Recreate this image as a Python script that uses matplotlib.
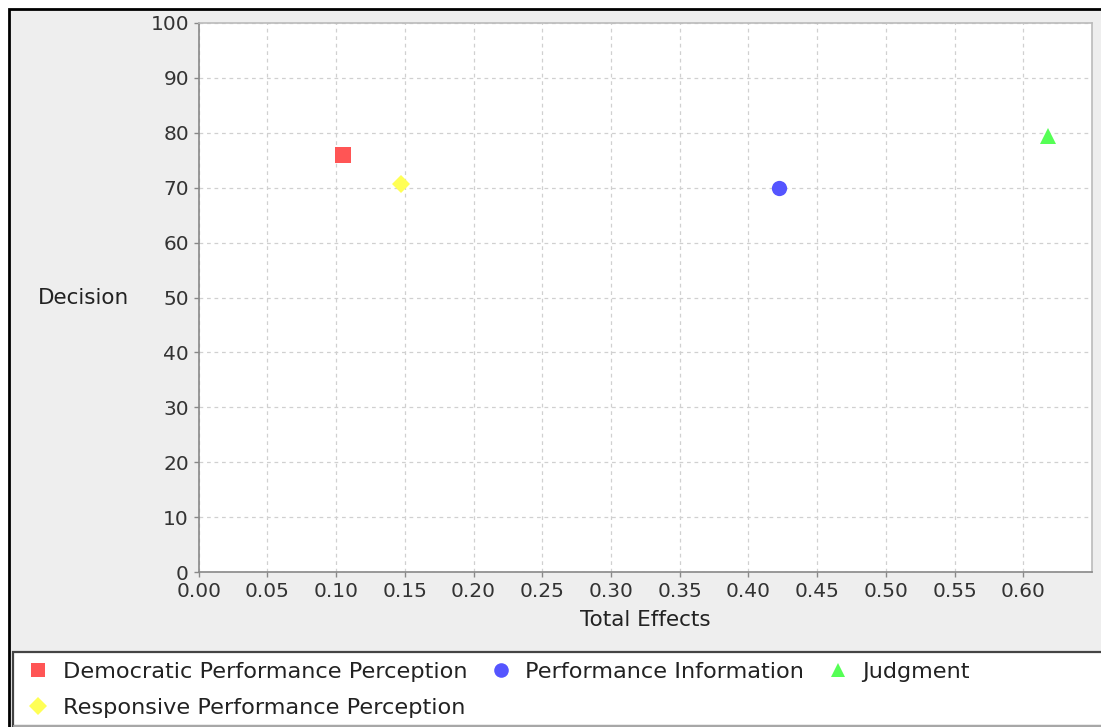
import matplotlib
matplotlib.use("Agg")
import matplotlib.pyplot as plt
from matplotlib.patches import Rectangle
from matplotlib.lines import Line2D
import numpy as np

series_names = ["Democratic Performance Perception", "Performance Information",
                "Judgment", "Responsive Performance Perception"]
total_effects = [0.105, 0.422, 0.618, 0.147]
decision = [76.0, 70.0, 79.3, 70.6]
markers = ["s", "o", "^", "D"]
marker_sizes = [11, 11, 11, 9.5]
colors = ["#FF5555", "#5555FF", "#55FF55", "#FFFF55"]
x_ticks = [0.00, 0.05, 0.10, 0.15, 0.20, 0.25, 0.30, 0.35, 0.40, 0.45, 0.50, 0.55, 0.60]
y_ticks = [0, 10, 20, 30, 40, 50, 60, 70, 80, 90, 100]

W, H = 1101, 727
fig = plt.figure(figsize=(W / 100, H / 100), dpi=100, facecolor="white")
plt.rcParams["font.family"] = ["DejaVu Sans"]

def fx(px):
    return px / W

def fy(py):
    return 1 - py / H

# outer panel
fig.patches.append(Rectangle((fx(8.5), fy(760)), fx(1150), fy(8.5) - fy(760),
                             transform=fig.transFigure, facecolor="#EEEEEE",
                             edgecolor="black", linewidth=2.0, zorder=0))
# legend box
fig.patches.append(Rectangle((fx(12.5), fy(726)), fx(1150), fy(651.5) - fy(726),
                             transform=fig.transFigure, facecolor="white",
                             edgecolor="#444444", linewidth=1.6, zorder=1))
fig.lines.append(Line2D([fx(13.5), 1], [fy(726), fy(726)], transform=fig.transFigure,
                        color="#BBBBBB", linewidth=1.2, zorder=2))

ax = fig.add_axes([198.7 / W, 1 - 572.3 / H, 893.3 / W, (572.3 - 22.7) / H])
ax.set_zorder(3)
ax.set_facecolor("white")
ax.set_xlim(0, 0.65)
ax.set_ylim(0, 100)
ax.set_xticks(x_ticks)
ax.set_yticks(y_ticks)
ax.set_xticklabels(["%.2f" % v for v in x_ticks])
ax.set_yticklabels([str(v) for v in y_ticks])
ax.grid(True, color="#D0D0D0", linestyle=(0, (3, 3)), linewidth=0.9)
ax.set_axisbelow(True)
for side in ["top", "right"]:
    ax.spines[side].set_color("#BBBBBB")
    ax.spines[side].set_linewidth(1.2)
for side in ["left", "bottom"]:
    ax.spines[side].set_color("#888888")
    ax.spines[side].set_linewidth(1.2)
ax.tick_params(axis="both", direction="out", length=3.5, width=1.0, color="#888888",
               labelsize=14.5, labelcolor="#333333", pad=3.5)

handles = []
for name, x, y, m, ms, c in zip(series_names, total_effects, decision, markers, marker_sizes, colors):
    h, = ax.plot([x], [y], linestyle="none", marker=m, markersize=ms, color=c,
                 markeredgewidth=0, label=name, zorder=3, clip_on=False)
    handles.append(h)

ax.set_xlabel("Total Effects", fontsize=15.5, color="#222222")
ax.xaxis.set_label_coords(0.5, -0.087)
ax.xaxis.label.set_va("center")
ax.set_ylabel("Decision", fontsize=15.5, color="#222222", rotation=0, ha="right", va="center")
ax.yaxis.set_label_coords((129.5 - 198.7) / 893.3, 0.5)

# legend: order so that row1 = series 0,1,2 and row2 = series 3
order = [0, 3, 1, 2]
leg_handles = []
for i in order:
    leg_handles.append(Line2D([], [], linestyle="none", marker=markers[i],
                              markersize=marker_sizes[i] - 0.5, color=colors[i],
                              markeredgewidth=0))
leg = fig.legend(leg_handles, [series_names[i] for i in order], ncol=3,
                 loc="upper left", bbox_to_anchor=(fx(27), fy(662)),
                 frameon=False, fontsize=16.1, handlelength=1.0, handletextpad=0.6,
                 columnspacing=1.0, labelspacing=0.72, borderpad=0, borderaxespad=0)
for t in leg.get_texts():
    t.set_color("#222222")
leg.set_zorder(5)

fig.savefig("out.png", dpi=100, facecolor="white")
